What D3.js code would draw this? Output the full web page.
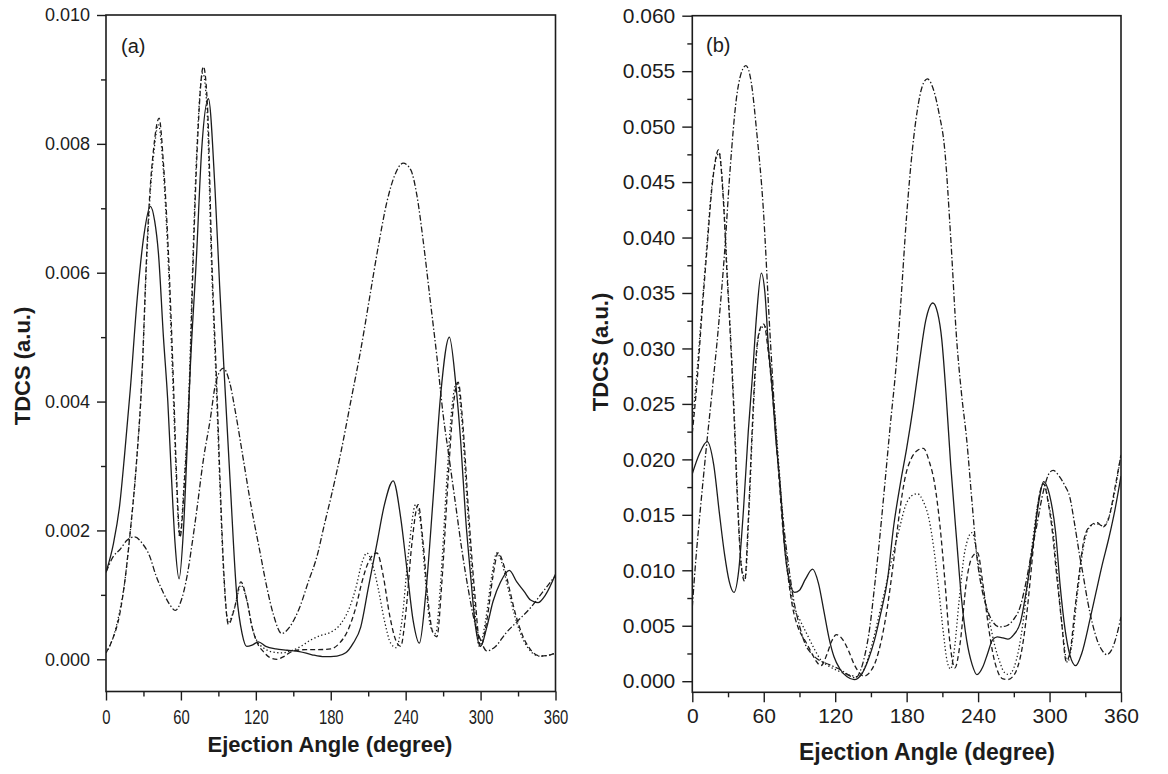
<!DOCTYPE html>
<html>
<head>
<meta charset="utf-8">
<script src="https://cdn.jsdelivr.net/npm/d3@7"></script>
<style>
  html, body { margin: 0; padding: 0; background: #fff; }
  svg { display: block; }
</style>
</head>
<body>
<svg id="chart" width="1168" height="774"></svg>
<script>
// TDCS vs ejection angle, two panels, four curves each (solid / dashed / dotted / dash-dot).

const X_TICKS = [0, 60, 120, 180, 240, 300, 360];
const X_MINOR = [30, 90, 150, 210, 270, 330];
const A_Y_TICKS = [0, 0.002, 0.004, 0.006, 0.008, 0.010];
const A_Y_MINOR = [0.001, 0.003, 0.005, 0.007, 0.009];
const B_Y_TICKS = [0, 0.005, 0.010, 0.015, 0.020, 0.025, 0.030, 0.035, 0.040, 0.045, 0.050, 0.055, 0.060];
const B_Y_MINOR = [0.0025, 0.0075, 0.0125, 0.0175, 0.0225, 0.0275, 0.0325, 0.0375, 0.0425, 0.0475, 0.0525, 0.0575];

// panel (a) — [angle, TDCS]
const aSolid = [[0,0.00135],[6,0.0018],[11,0.0024],[15,0.0032],[19.5,0.0042],[25,0.0056],[30.5,0.0066],[35.5,0.00703],[39,0.0068],[42,0.0063],[46,0.0050],[49.5,0.0040],[52.5,0.0028],[55.3,0.0018],[58.5,0.00125],[62,0.0020],[65,0.0033],[67,0.0043],[72.6,0.0063],[76.6,0.0079],[82,0.0087],[87.3,0.0073],[91,0.0058],[94.5,0.0045],[99.3,0.0028],[104.7,0.0010],[109,0.0004],[112.7,0.0002],[117,0.00022],[122,0.00027],[128,0.0002],[136,0.00016],[145,0.00014],[155,0.00012],[165,0.00007],[175,0.00004],[185,0.00005],[192,0.0001],[198,0.00025],[204,0.0005],[210,0.0011],[217,0.0018],[223,0.0024],[230,0.00277],[236,0.0022],[241,0.0014],[246,0.0006],[251,0.00025],[256,0.0010],[262,0.0025],[268,0.0041],[275,0.0050],[280,0.0043],[284,0.0034],[288,0.0022],[292,0.0013],[296,0.0005],[300,0.0002],[305,0.0005],[310,0.0009],[316,0.0012],[323,0.00138],[329,0.0012],[335,0.00105],[340,0.00092],[346,0.00088],[352,0.0010],[360,0.00132]];
const aDashed = [[0,0.0001],[5,0.0003],[11,0.0007],[15,0.0012],[19,0.0019],[24.6,0.0031],[28.6,0.0043],[32.6,0.0063],[35,0.0072],[38,0.0079],[42.5,0.0084],[46,0.0077],[50,0.0063],[54,0.0043],[56.6,0.0028],[59.3,0.0019],[63,0.0028],[67,0.0043],[70,0.0063],[73,0.0079],[78,0.0092],[81.5,0.0085],[84.6,0.0063],[88.6,0.0043],[91.3,0.0028],[94.5,0.0013],[98,0.00054],[103,0.0008],[108,0.0012],[113,0.0009],[117,0.0005],[121,0.00026],[126,0.00012],[131,0.00003],[137,0.0],[143,0.00005],[150,0.00013],[160,0.00015],[170,0.00015],[180,0.00016],[187,0.00025],[193,0.00042],[200,0.0008],[205,0.0012],[210,0.0015],[217,0.00165],[222,0.0013],[227,0.0007],[232,0.0003],[236,0.0002],[240,0.0007],[245,0.0018],[250,0.0024],[254,0.0018],[258,0.0009],[262,0.0004],[265,0.00035],[269,0.0012],[274,0.0028],[278,0.0039],[282,0.0043],[286,0.0036],[290,0.0024],[295,0.0011],[300,0.0002],[305,0.0006],[310,0.0013],[314,0.00165],[318,0.0015],[323,0.0011],[328,0.0007],[333,0.0004],[340,0.00015],[348,0.00005],[354,0.00006],[360,0.0001]];
const aDotted = [[0,0.0001],[5,0.0003],[11,0.00075],[15,0.0012],[19,0.0019],[24.6,0.0031],[28.6,0.0043],[32.6,0.0062],[35,0.0071],[38,0.0078],[42,0.0083],[45.5,0.0077],[49.5,0.0063],[53.5,0.0043],[56.3,0.0028],[59,0.0019],[62.7,0.0028],[66.7,0.0043],[69.7,0.0063],[72.7,0.0079],[77.5,0.0091],[81,0.0085],[84.2,0.0063],[88.2,0.0043],[91,0.0028],[94.3,0.0013],[98,0.00058],[103,0.0008],[108,0.00115],[113,0.0009],[117,0.0005],[121,0.00028],[126,0.00018],[132,0.00012],[140,0.0001],[148,0.00013],[156,0.0002],[164,0.0003],[172,0.00037],[180,0.00042],[188,0.00055],[195,0.0008],[200,0.0011],[205,0.0015],[209,0.00165],[213,0.0015],[218,0.0011],[223,0.0006],[228,0.00025],[232.5,0.00018],[237,0.0006],[242,0.0016],[248,0.0024],[252,0.0021],[256,0.0012],[260,0.0005],[264,0.0004],[268,0.0012],[273,0.0028],[277,0.0039],[281,0.0043],[285,0.0037],[289,0.0025],[294,0.0011],[299,0.0002],[304,0.0006],[309,0.0013],[313,0.00165],[317,0.0015],[322,0.0011],[327,0.0007],[332,0.0004],[339,0.00015],[347,0.00005],[354,0.00006],[360,0.0001]];
const aDashDot = [[0,0.00135],[6,0.0016],[11,0.0017],[17,0.00185],[23,0.0019],[29,0.0018],[35,0.0016],[40,0.0013],[46,0.00103],[51,0.00085],[55.5,0.00076],[60,0.0009],[65,0.0013],[69,0.0018],[72.6,0.0023],[78,0.0031],[83.3,0.0037],[88,0.0043],[94,0.00452],[99,0.0043],[104,0.0038],[110,0.0031],[116,0.0024],[123,0.0017],[129,0.0011],[134,0.0007],[140.7,0.0004],[147,0.0005],[155,0.0008],[162,0.0012],[169,0.0016],[175,0.0021],[180,0.0025],[188,0.0032],[196,0.0040],[204,0.0048],[211,0.0056],[218,0.0064],[225,0.0071],[231,0.0075],[238,0.0077],[244,0.0076],[249,0.0072],[254,0.0065],[259.5,0.0056],[265,0.0047],[270,0.0038],[275,0.0031],[280,0.0024],[285,0.0017],[290,0.0011],[295,0.0006],[300,0.0003],[305,0.00013],[312,0.0002],[320,0.0004],[330,0.0006],[340,0.0008],[350,0.00105],[360,0.0013]];

// panel (b) — [angle, TDCS]
const bSolid = [[0,0.0187],[6,0.0205],[12.5,0.0216],[18,0.0195],[22.7,0.0152],[27,0.0115],[31,0.0090],[35,0.0080],[39,0.0100],[43,0.0155],[47,0.0225],[50.5,0.0275],[54,0.0330],[58,0.0368],[61,0.0350],[64,0.0300],[67,0.0265],[70,0.0220],[73.5,0.0180],[78,0.0115],[82,0.0088],[86,0.0080],[90,0.0082],[95,0.0092],[101,0.0101],[106,0.0088],[110.7,0.0062],[115,0.0038],[119,0.0022],[124,0.0011],[130,0.0004],[136,0.00015],[142,0.0006],[148,0.0020],[153,0.0037],[158,0.0060],[164,0.0092],[169,0.0139],[175,0.0180],[180,0.0210],[185.6,0.0248],[191,0.0290],[196,0.0325],[202,0.0341],[206,0.0332],[209.5,0.0308],[213,0.0260],[217,0.0195],[222,0.0127],[226,0.0075],[230.4,0.0037],[235,0.0015],[239,0.0006],[244,0.0013],[248,0.0025],[252,0.0037],[256,0.0040],[261,0.0039],[265,0.0038],[270,0.0042],[275.5,0.0053],[281,0.0085],[286,0.0122],[291,0.0162],[295,0.0180],[300,0.0168],[305,0.0135],[309,0.0085],[313,0.0047],[317,0.0024],[322,0.0014],[327,0.0025],[334,0.0056],[339,0.0080],[344,0.0104],[350,0.0130],[355,0.0155],[360,0.0185]];
const bDashed = [[0,0.0224],[4,0.0270],[8,0.0330],[12,0.0385],[17,0.0450],[22,0.0479],[26,0.0435],[29,0.0370],[32,0.0310],[35,0.0240],[38,0.0160],[41,0.0105],[44,0.0090],[47,0.0145],[50,0.0220],[53,0.0285],[57,0.0318],[60,0.0322],[64,0.0295],[68,0.0250],[72,0.0195],[76,0.0138],[80,0.0098],[84,0.0068],[89,0.0048],[95,0.0036],[100,0.0026],[104,0.0018],[108,0.0014],[113,0.0024],[117,0.0036],[121,0.0042],[126,0.0038],[131,0.0028],[136,0.0015],[140,0.0008],[144,0.00045],[149,0.0008],[154,0.0018],[159,0.0038],[164,0.0068],[169,0.0108],[174,0.0152],[179,0.0185],[184,0.0201],[189,0.0208],[194,0.0210],[199,0.0198],[203.5,0.0178],[208,0.0140],[212,0.0092],[216,0.0038],[220.5,0.0012],[225,0.0035],[230,0.0088],[235,0.0112],[239.5,0.0116],[244,0.0088],[249,0.0047],[253,0.0022],[257,0.00075],[261,0.0002],[265,0.00015],[269,0.0004],[273,0.0012],[277,0.0030],[281,0.0062],[285,0.0105],[289,0.0150],[295,0.0178],[299,0.0160],[302,0.0138],[306,0.0095],[310,0.0055],[314,0.0018],[317.5,0.0028],[321,0.0062],[325,0.0098],[329,0.0128],[334,0.0140],[340,0.0143],[345,0.0139],[350,0.0148],[355,0.0175],[360,0.0204]];
const bDotted = [[0,0.0232],[4,0.0280],[8,0.0335],[12,0.0390],[17,0.0452],[22.5,0.0476],[26.5,0.0430],[29.5,0.0365],[32.5,0.0305],[35.5,0.0235],[38.5,0.0155],[41.5,0.0102],[44.5,0.0093],[47.5,0.0150],[50.5,0.0225],[53.5,0.0288],[57.5,0.0318],[61,0.0320],[65,0.0290],[69,0.0245],[73,0.0190],[77,0.0135],[81,0.0093],[85,0.0068],[90,0.0056],[96,0.0043],[102,0.0030],[108,0.0019],[114,0.0014],[121,0.0010],[128,0.0007],[134,0.0005],[139,0.0004],[143,0.0008],[148,0.0022],[153,0.0042],[158,0.0065],[163,0.0088],[168,0.0112],[174,0.0138],[179,0.0158],[184,0.0167],[189,0.0169],[194,0.0162],[199,0.0145],[203,0.0118],[207,0.0082],[211,0.0042],[214,0.0018],[217,0.0011],[220,0.0028],[224,0.0072],[229,0.0118],[235,0.0134],[240,0.0108],[245,0.0078],[250,0.0052],[254,0.0032],[258,0.0018],[262,0.0008],[266,0.0006],[270,0.0012],[274,0.0028],[278,0.0055],[282,0.0092],[286,0.0128],[291,0.0165],[295,0.0178],[299,0.0162],[303,0.0135],[307,0.0090],[311,0.0045],[315,0.0017],[319,0.0035],[323,0.0075],[328,0.0118],[333,0.0138],[339,0.0142],[345,0.0140],[351,0.0152],[356,0.0178],[360,0.0205]];
const bDashDot = [[0,0.0067],[3,0.0110],[6.5,0.0152],[12,0.0213],[17,0.0265],[22,0.0320],[27,0.0385],[32,0.0465],[37,0.0525],[41,0.0548],[45,0.0555],[49.5,0.0540],[54,0.0496],[59.5,0.0428],[65,0.0318],[69,0.0245],[73,0.0185],[77,0.0138],[81,0.0103],[85,0.0074],[90,0.0050],[95,0.0033],[100,0.0025],[105,0.0020],[115,0.0015],[125,0.0010],[132,0.0005],[137,0.0003],[141,0.0009],[145,0.0024],[149,0.0048],[153,0.0085],[157,0.0125],[161,0.0170],[166,0.0228],[171.6,0.0290],[175,0.0340],[180,0.0420],[184.8,0.0479],[189,0.0515],[193,0.0536],[197.4,0.0543],[202,0.0535],[207,0.0513],[212,0.0479],[217,0.0400],[222,0.0308],[226,0.0260],[230.4,0.0218],[235,0.0160],[239,0.0112],[243,0.0084],[247,0.0067],[252,0.0054],[258,0.0049],[264,0.0050],[270,0.0056],[275,0.0066],[280,0.0088],[285,0.0117],[289,0.0139],[295,0.0172],[300,0.0188],[303,0.0190],[308,0.0185],[313,0.0176],[317,0.0166],[321,0.0142],[325,0.0115],[328,0.0097],[332,0.0072],[336,0.0052],[340,0.0037],[344,0.0028],[348,0.0024],[352,0.0028],[356,0.0040],[360,0.0058]];

const INK = '#1c1c1c';
const FONT = "'Liberation Sans', Arial, Helvetica, sans-serif";
const DASH = { solid: null, dashed: '5 3', dotted: '1.3 2.4', dashdot: '6 2.2 1.4 2.2' };

const svg = d3.select('#chart');

function drawPanel(p) {
  const x = d3.scaleLinear().domain([0, 360]).range([p.left, p.right]);
  const y = d3.scaleLinear().domain(p.yDomain).range([p.bottom, p.top]);
  const g = svg.append('g');

  // minor ticks first, majors on top
  g.append('g').attr('transform', `translate(0,${p.bottom})`)
    .call(d3.axisBottom(x).tickValues(X_MINOR).tickSize(p.minorLen).tickFormat(''))
    .call(a => a.select('.domain').remove());
  g.append('g').attr('transform', `translate(${p.left},0)`)
    .call(d3.axisLeft(y).tickValues(p.yMinor).tickSize(p.minorLen).tickFormat(''))
    .call(a => a.select('.domain').remove());

  const xa = g.append('g').attr('transform', `translate(0,${p.bottom})`)
    .call(d3.axisBottom(x).tickValues(X_TICKS).tickSize(p.majorLen).tickPadding(p.xPad).tickFormat(d3.format('d')))
    .call(a => a.select('.domain').remove());
  xa.selectAll('text').attr('fill', INK).style('font-family', FONT).style('font-size', p.xFont + 'px')
    .each(function () {
      if (p.xSquash < 1) {
        const w = this.getComputedTextLength();
        this.setAttribute('textLength', w * p.xSquash);
        this.setAttribute('lengthAdjust', 'spacingAndGlyphs');
      }
    });

  const ya = g.append('g').attr('transform', `translate(${p.left},0)`)
    .call(d3.axisLeft(y).tickValues(p.yTicks).tickSize(p.majorLen).tickPadding(p.yPad).tickFormat(d3.format('.3f')))
    .call(a => a.select('.domain').remove());
  ya.selectAll('text').attr('fill', INK).style('font-family', FONT).style('font-size', p.yFont + 'px');

  g.selectAll('.tick line').attr('stroke', INK).attr('stroke-width', 1.4);

  const clipId = 'clip-' + p.name;
  svg.append('clipPath').attr('id', clipId).append('rect')
    .attr('x', p.left).attr('y', p.top).attr('width', p.right - p.left).attr('height', p.bottom - p.top);

  const line = d3.line().x(d => x(d[0])).y(d => y(d[1])).curve(d3.curveMonotoneX);
  const plot = g.append('g').attr('clip-path', `url(#${clipId})`);
  p.series.forEach(s => {
    plot.append('path').datum(s.data)
      .attr('fill', 'none').attr('stroke', INK).attr('stroke-width', 1.3)
      .attr('stroke-dasharray', DASH[s.style]).attr('d', line);
  });

  g.append('rect').attr('x', p.left).attr('y', p.top)
    .attr('width', p.right - p.left).attr('height', p.bottom - p.top)
    .attr('fill', 'none').attr('stroke', INK).attr('stroke-width', 1.6);

  g.append('text').attr('x', p.tagX).attr('y', p.tagY).attr('fill', INK)
    .style('font-family', FONT).style('font-size', p.tagFont + 'px').text(p.tag);

  g.append('text').attr('x', p.xTitleX).attr('y', p.xTitleY).attr('text-anchor', 'middle')
    .attr('fill', INK).style('font-family', FONT).style('font-size', p.xTitleFont + 'px').style('font-weight', 'bold')
    .text('Ejection Angle (degree)');

  g.append('text').attr('transform', `translate(${p.yTitleX},${p.yTitleY}) rotate(-90)`)
    .attr('text-anchor', 'middle').attr('dy', '0.36em')
    .attr('fill', INK).style('font-family', FONT).style('font-size', p.yTitleFont + 'px').style('font-weight', 'bold')
    .text('TDCS (a.u.)');
}

drawPanel({
  name: 'a', left: 106, right: 555.5, top: 15, bottom: 691.5, yDomain: [-0.0005, 0.010],
  yTicks: A_Y_TICKS, yMinor: A_Y_MINOR, majorLen: 9, minorLen: 5,
  xPad: 10, yPad: 7, xFont: 19.5, xSquash: 0.76, yFont: 18,
  tag: '(a)', tagX: 121, tagY: 53, tagFont: 20,
  xTitleX: 330, xTitleY: 752, xTitleFont: 22, yTitleX: 22, yTitleY: 366, yTitleFont: 22,
  series: [
    { data: aSolid, style: 'solid' },
    { data: aDashed, style: 'dashed' },
    { data: aDotted, style: 'dotted' },
    { data: aDashDot, style: 'dashdot' }
  ]
});

drawPanel({
  name: 'b', left: 692.3, right: 1121, top: 15.7, bottom: 692.3, yDomain: [-0.001, 0.060],
  yTicks: B_Y_TICKS, yMinor: B_Y_MINOR, majorLen: 10, minorLen: 5,
  xPad: 6, yPad: 7, xFont: 21, xSquash: 1, yFont: 21,
  tag: '(b)', tagX: 706, tagY: 52, tagFont: 20,
  xTitleX: 927, xTitleY: 760, xTitleFont: 23, yTitleX: 600, yTitleY: 352, yTitleFont: 22,
  series: [
    { data: bSolid, style: 'solid' },
    { data: bDashed, style: 'dashed' },
    { data: bDotted, style: 'dotted' },
    { data: bDashDot, style: 'dashdot' }
  ]
});
</script>
</body>
</html>
